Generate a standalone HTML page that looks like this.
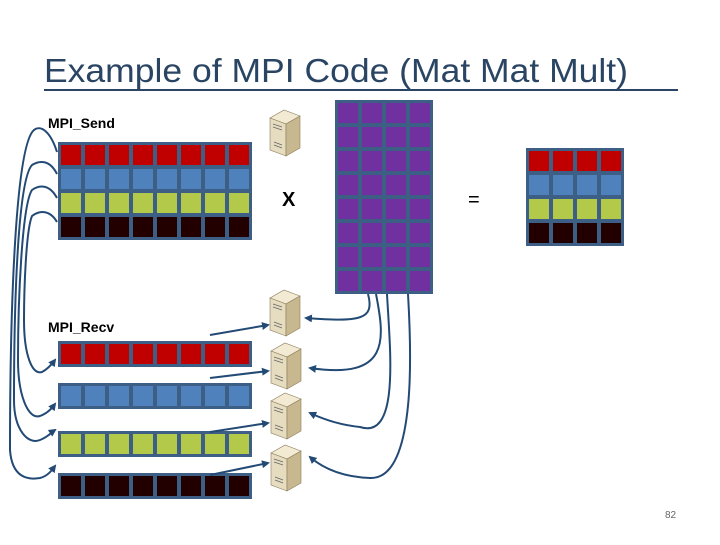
<!DOCTYPE html>
<html><head><meta charset="utf-8"><style>
body{margin:0;width:720px;height:540px;background:#fff;overflow:hidden;font-family:"Liberation Sans",sans-serif}
</style></head><body>
<svg width="720" height="540" viewBox="0 0 720 540" xmlns="http://www.w3.org/2000/svg">
<defs>
<marker id="ah" markerWidth="8" markerHeight="8" refX="6" refY="4" orient="auto" markerUnits="userSpaceOnUse">
<path d="M0,0 L8,4 L0,8 Z" fill="#234a75"/></marker>
<g id="srv">
<path d="M0,8 L14,0 L30,6 L16,14 Z" fill="#f2ead2" stroke="#8a7c5a" stroke-width="0.6"/>
<path d="M0,8 L16,14 L16,46 L0,40 Z" fill="#e6dcc0" stroke="#8a7c5a" stroke-width="0.6"/>
<path d="M16,14 L30,6 L30,38 L16,46 Z" fill="#c8b88f" stroke="#8a7c5a" stroke-width="0.6"/>
<path d="M3,14 L12,17 M3,17 L12,20 M4,32 L12,35 M4,35 L12,38" stroke="#666" stroke-width="0.8"/>
</g>
</defs>
<text x="44" y="82" font-family="Liberation Sans,sans-serif" font-size="33" fill="#2a4563" textLength="584" lengthAdjust="spacingAndGlyphs">Example of MPI Code (Mat Mat Mult)</text>
<line x1="44" y1="90" x2="678" y2="90" stroke="#2a4563" stroke-width="2"/>
<text x="48" y="128" font-size="14" font-weight="bold" fill="#000">MPI_Send</text>
<text x="48" y="332" font-size="14" font-weight="bold" fill="#000">MPI_Recv</text>
<text x="282" y="206" font-size="20" font-weight="bold" fill="#000">X</text>
<text x="468" y="206" font-size="20" fill="#000">=</text>
<text x="665" y="518" font-size="10" fill="#666">82</text>
<g id="cells"></g>
<g fill="none" stroke="#234a75" stroke-width="2" marker-end="url(#ah)">
<path d="M57,152 C50,130 40,125 34,130 C16,145 10,300 10,450 C12,478 28,480 40,478 C48,476 52,470 55,466"/>
<path d="M57,174 C50,160 40,160 32,165 C18,180 14,300 14,400 C14,430 28,445 40,440 C48,437 52,432 55,430"/>
<path d="M57,198 C50,185 40,184 32,190 C22,205 18,300 18,360 C18,395 28,420 40,416 C48,413 52,408 55,404"/>
<path d="M57,222 C50,210 40,210 32,216 C26,230 24,290 24,320 C24,355 32,375 42,372 C48,369 52,364 55,360"/>
<path d="M210,335 L268,325"/>
<path d="M210,378 L268,371"/>
<path d="M210,432 L268,423"/>
<path d="M210,475 L268,463"/>
<path d="M368,294 C375,320 360,322 306,318"/>
<path d="M376,294 C385,340 390,380 310,368"/>
<path d="M387,294 C390,350 400,440 360,427 C340,425 325,420 310,413"/>
<path d="M408,294 C410,330 420,480 370,478 C345,477 325,470 310,457"/>
</g>
<use href="#srv" x="270" y="110"/>
<use href="#srv" x="270" y="290"/>
<use href="#srv" x="271" y="343"/>
<use href="#srv" x="271" y="393"/>
<use href="#srv" x="271" y="445"/>
</svg>
<script>
const ns="http://www.w3.org/2000/svg",g=document.getElementById('cells');
function grid(x,y,cols,rows,colors){const r=document.createElementNS(ns,'rect');r.setAttribute('x',x);r.setAttribute('y',y);r.setAttribute('width',cols*24+2);r.setAttribute('height',rows*24+2);r.setAttribute('fill','#3d5f86');g.appendChild(r);
for(let j=0;j<rows;j++)for(let i=0;i<cols;i++){const c=document.createElementNS(ns,'rect');c.setAttribute('x',x+3+i*24);c.setAttribute('y',y+3+j*24);c.setAttribute('width',20);c.setAttribute('height',20);c.setAttribute('fill',colors[j]);g.appendChild(c);}}
const C=['#c00000','#4f81bd','#b3c94a','#220000'];
grid(58,142,8,4,C);
grid(335,100,4,8,Array(8).fill('#7030a0'));
grid(526,148,4,4,C);
grid(58,341,8,1,[C[0]]);grid(58,383,8,1,[C[1]]);grid(58,431,8,1,[C[2]]);grid(58,473,8,1,[C[3]]);
</script>
</body></html>
